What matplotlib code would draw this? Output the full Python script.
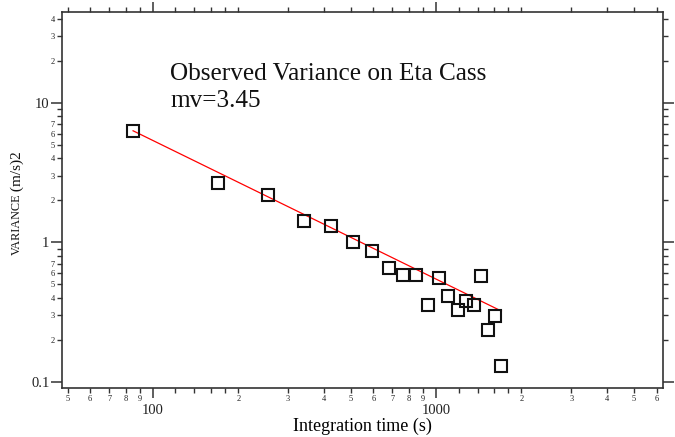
import matplotlib
matplotlib.use("Agg")
import matplotlib.pyplot as plt
from matplotlib.ticker import FixedLocator, FixedFormatter

# --- dados ---
tempo = [85, 170, 255, 340, 425, 510, 595, 680, 765, 850,
         935, 1020, 1105, 1190, 1275, 1360, 1445, 1530, 1615, 1700]
variancia = [6.27, 2.65, 2.18, 1.43, 1.31, 1.01, 0.87, 0.65, 0.58, 0.58,
             0.356, 0.552, 0.412, 0.327, 0.382, 0.354, 0.576, 0.235, 0.297, 0.131]

# reta de ajuste (extremos)
ajuste_x = [85, 1700]
ajuste_y = [6.3, 0.322]

# ticks
x_major = [100, 1000]
x_minor = [50, 60, 70, 80, 90, 120, 140, 160, 180,
           200, 300, 400, 500, 600, 700, 800, 900,
           1200, 1400, 1600, 1800, 2000, 3000, 4000, 5000, 6000]
x_minor_lbl = ["5", "6", "7", "8", "9", "", "", "", "",
               "2", "3", "4", "5", "6", "7", "8", "9",
               "", "", "", "", "2", "3", "4", "5", "6"]
y_major = [0.1, 1, 10]
y_major_lbl = ["0.1", "1", "10"]
y_minor = [0.2, 0.3, 0.4, 0.5, 0.6, 0.7, 0.8, 0.9,
           2, 3, 4, 5, 6, 7, 8, 9, 20, 30, 40]
y_minor_lbl = ["2", "3", "4", "5", "6", "7", "", "",
               "2", "3", "4", "5", "6", "7", "", "",
               "2", "3", "4"]

plt.rcParams["font.family"] = ["Liberation Serif", "DejaVu Serif"]

fig = plt.figure(figsize=(6.75, 4.37), dpi=100)
ax = fig.add_axes([0.0919, 0.1128, 0.8903, 0.8604])

ax.plot(ajuste_x, ajuste_y, color="red", lw=0.9, zorder=2)
ax.plot(tempo, variancia, ls="none", marker="s", ms=9, mfc="none",
        mec="#111111", mew=1.5, zorder=3)

ax.set_xscale("log")
ax.set_yscale("log")
ax.set_xlim(47.7, 6324)
ax.set_ylim(0.091, 44.9)

ax.xaxis.set_major_locator(FixedLocator(x_major))
ax.xaxis.set_major_formatter(FixedFormatter(["100", "1000"]))
ax.xaxis.set_minor_locator(FixedLocator(x_minor))
ax.xaxis.set_minor_formatter(FixedFormatter(x_minor_lbl))
ax.yaxis.set_major_locator(FixedLocator(y_major))
ax.yaxis.set_major_formatter(FixedFormatter(y_major_lbl))
ax.yaxis.set_minor_locator(FixedLocator(y_minor))
ax.yaxis.set_minor_formatter(FixedFormatter(y_minor_lbl))

for s in ax.spines.values():
    s.set_color("#333333")
    s.set_linewidth(1.2)

ax.tick_params(which="both", direction="out", top=True, right=True,
               labeltop=False, labelright=False, colors="#333333",
               labelcolor="#222222")
ax.tick_params(axis="x", which="major", length=7, width=1.1, labelsize=10.5, pad=5)
ax.tick_params(axis="x", which="minor", length=3.5, width=1.0, labelsize=6, pad=2)
ax.tick_params(axis="y", which="major", length=8, width=1.1, labelsize=10.5, pad=1)
ax.tick_params(axis="y", which="minor", length=3.5, width=1.0, labelsize=6, pad=1.5)

ax.set_xlabel("Integration time (s)", fontsize=13, labelpad=0)

# rotulo do eixo y em duas partes (VARIANCE menor)
fig.text(17 / 675, 1 - 255 / 437, "VARIANCE", rotation=90, fontsize=8.8,
         ha="center", va="bottom", color="#111111")
fig.text(17 / 675, 1 - 195 / 437, " (m/s)2", rotation=90, fontsize=11,
         ha="center", va="bottom", color="#111111")

ax.text(0.18, 0.818, "Observed Variance on Eta Cass", transform=ax.transAxes,
        fontsize=18.2, va="baseline", ha="left", color="#111111")
ax.text(0.18, 0.747, "mv=3.45", transform=ax.transAxes,
        fontsize=18.2, va="baseline", ha="left", color="#111111")

fig.savefig("out.png", dpi=100)
